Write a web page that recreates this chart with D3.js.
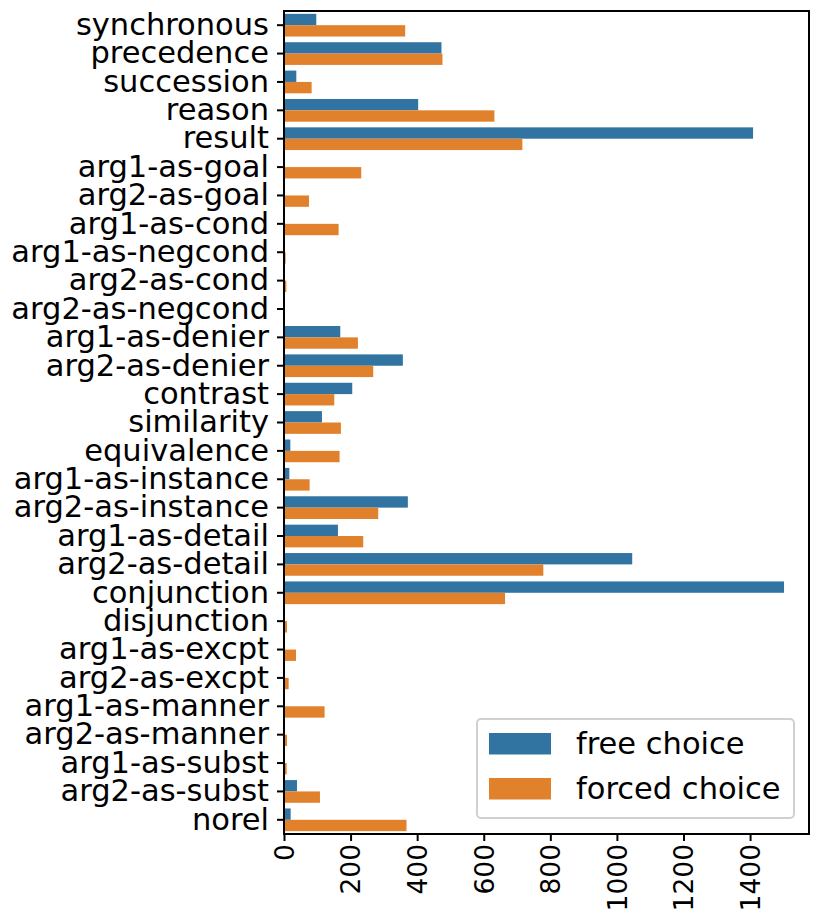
<!DOCTYPE html>
<html>
<head>
<meta charset="utf-8">
<script src="https://cdn.jsdelivr.net/npm/d3@7"></script>
<style>
  body { margin: 0; background: #fff; }
  text { font-family: "DejaVu Sans", sans-serif; fill: #000; }
</style>
</head>
<body>
<div id="chart-area"></div>
<script>
// relation senses, top to bottom
var categories = ["synchronous", "precedence", "succession", "reason", "result",
    "arg1-as-goal", "arg2-as-goal", "arg1-as-cond", "arg1-as-negcond", "arg2-as-cond",
    "arg2-as-negcond", "arg1-as-denier", "arg2-as-denier", "contrast", "similarity",
    "equivalence", "arg1-as-instance", "arg2-as-instance", "arg1-as-detail", "arg2-as-detail",
    "conjunction", "disjunction", "arg1-as-excpt", "arg2-as-excpt", "arg1-as-manner",
    "arg2-as-manner", "arg1-as-subst", "arg2-as-subst", "norel"];

var freeChoice = [97, 473, 37, 403, 1409,
    0, 0, 0, 0, 0,
    0, 169, 357, 205, 114,
    19, 16, 372, 162, 1046,
    1502, 1, 0, 0, 0,
    1, 0, 39, 20];

var forcedChoice = [364, 476, 83, 632, 716,
    232, 75, 164, 5, 7,
    3, 222, 268, 151, 171,
    167, 77, 283, 238, 779,
    664, 9, 36, 14, 122,
    9, 8, 108, 368];

var seriesNames = ["free choice", "forced choice"];
var xTicks = [0, 200, 400, 600, 800, 1000, 1200, 1400];

var colors = ["#3274a1", "#e1812c"];

var W = 830, H = 919;
var margin = { left: 284, right: 21, top: 11, bottom: 85 };
var width = W - margin.left - margin.right,
    height = H - margin.top - margin.bottom;

var svg = d3.select("#chart-area")
    .append("svg")
        .attr("width", W)
        .attr("height", H)
    .append("g")
        .attr("transform", "translate(" + margin.left + "," + margin.top + ")");

var data = categories.map(function(c, i) {
    return { cat: c, values: [freeChoice[i], forcedChoice[i]] };
});

var x = d3.scaleLinear()
    .domain([0, 1577])
    .range([0, width]);

var y = d3.scaleBand()
    .domain(categories)
    .range([0, height])
    .paddingInner(0.2)
    .paddingOuter(0.1);

var yInner = d3.scaleBand()
    .domain([0, 1])
    .range([0, y.bandwidth()]);

var groups = svg.selectAll("g.cat")
    .data(data).enter()
    .append("g")
        .attr("class", "cat")
        .attr("transform", function(d) { return "translate(0," + y(d.cat) + ")"; });

groups.selectAll("rect")
    .data(function(d) { return d.values; }).enter()
    .append("rect")
        .attr("x", x(0))
        .attr("y", function(d, i) { return yInner(i); })
        .attr("width", function(d) { return x(d) - x(0); })
        .attr("height", yInner.bandwidth())
        .attr("fill", function(d, i) { return colors[i]; });

// axes
var yAxisCall = d3.axisLeft(y).tickSizeOuter(0).tickSize(7).tickPadding(8);
var yg = svg.append("g").attr("class", "y axis").call(yAxisCall);
yg.selectAll("text").attr("font-size", "30.5px").style("font-family", "DejaVu Sans");
yg.selectAll("line").attr("stroke-width", 2);
yg.select(".domain").remove();

var xAxisCall = d3.axisBottom(x)
    .tickValues(xTicks)
    .tickFormat(d3.format("d"))
    .tickSizeOuter(0)
    .tickSize(7);
var xg = svg.append("g")
    .attr("class", "x axis")
    .attr("transform", "translate(0," + height + ")")
    .call(xAxisCall);
xg.select(".domain").remove();
xg.selectAll("line").attr("stroke-width", 2);
xg.selectAll("text")
    .attr("font-size", "26.5px")
    .style("font-family", "DejaVu Sans")
    .attr("y", 0)
    .attr("x", -10)
    .attr("dy", "0.35em")
    .attr("text-anchor", "end")
    .attr("transform", "rotate(-90)");

// frame
svg.append("rect")
    .attr("width", width)
    .attr("height", height)
    .attr("fill", "none")
    .attr("stroke", "#000")
    .attr("stroke-width", 2);

// legend
var legend = svg.append("g").attr("transform", "translate(" + (477 - margin.left) + "," + (719 - margin.top) + ")");
legend.append("rect")
    .attr("width", 317)
    .attr("height", 99)
    .attr("rx", 4)
    .attr("fill", "#fff")
    .attr("fill-opacity", 0.8)
    .attr("stroke", "#d0d0d0")
    .attr("stroke-width", 2);

seriesNames.forEach(function(name, i) {
    legend.append("rect")
        .attr("x", 12)
        .attr("y", 14 + i * 45)
        .attr("width", 62)
        .attr("height", 21.5)
        .attr("fill", colors[i]);
    legend.append("text")
        .attr("x", 99)
        .attr("y", 35 + i * 45)
        .attr("font-size", "30.5px")
        .text(name);
});
</script>
</body>
</html>
